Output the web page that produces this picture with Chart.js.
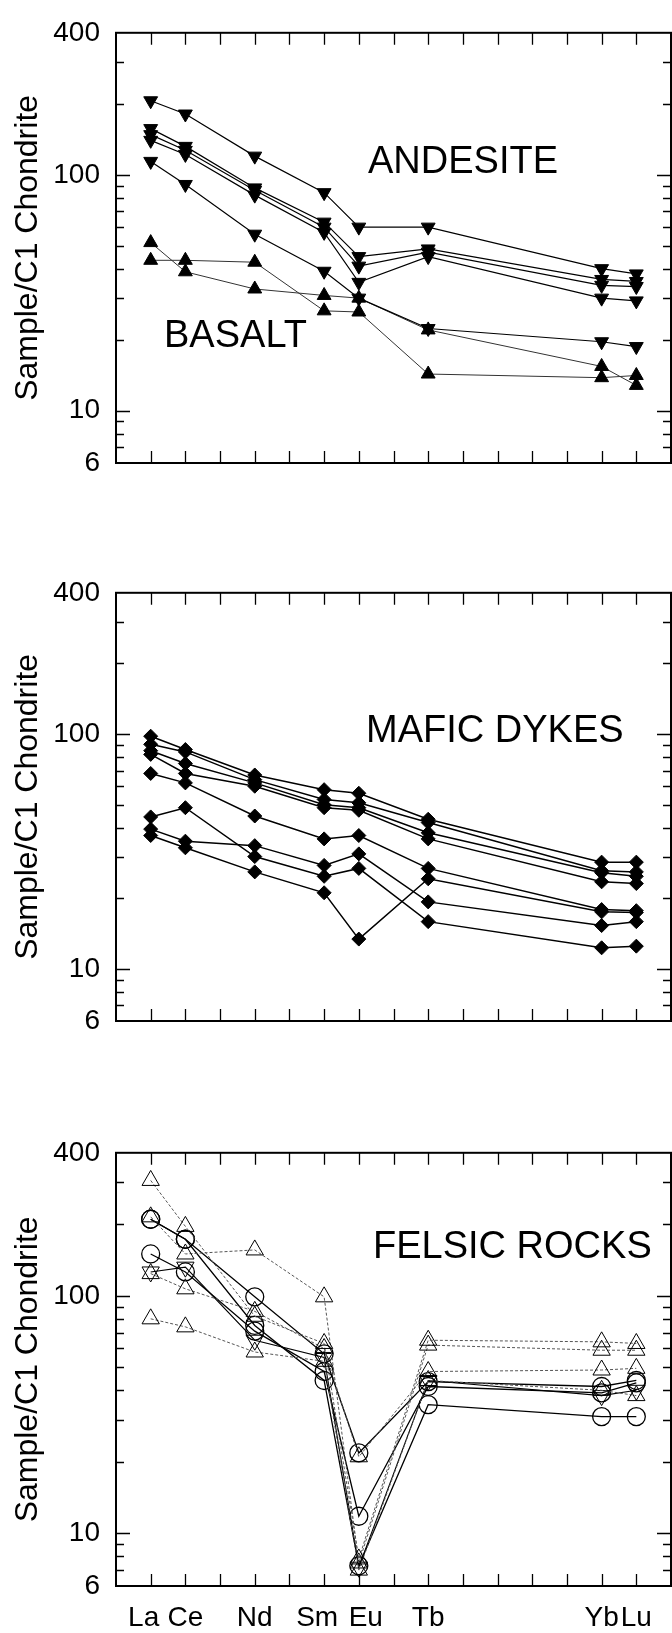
<!DOCTYPE html>
<html><head><meta charset="utf-8">
<script src="https://cdn.jsdelivr.net/npm/chart.js@4.4.0/dist/chart.umd.min.js"></script>
<style>
html,body{margin:0;padding:0;background:#fff;}
body{width:672px;height:1633px;position:relative;overflow:hidden;}
canvas{position:absolute;left:0;}
</style></head><body>
<canvas id="c1" width="672" height="500" style="top:0px"></canvas>
<canvas id="c2" width="672" height="500" style="top:560px"></canvas>
<canvas id="c3" width="672" height="513" style="top:1120px"></canvas>
<script>
// ---------- categories / ticks ----------
const elements = ['La','Ce','Pr','Nd','Pm','Sm','Eu','Gd','Tb','Dy','Ho','Er','Tm','Yb','Lu'];
const analysed = ['La','Ce','Nd','Sm','Eu','Tb','Yb','Lu'];
const yTickLabels = [400, 100, 10, 6];
const yTicks = [6,7,8,9,10,20,30,40,50,60,70,80,90,100,200,300,400];

// ---------- panel 1: andesite (filled down-triangles) ----------
const andesite1 = [206, 181, 120, 84, 60, 60, 40, 38];
const andesite2 = [157, 132, 88, 63, 45, 48.5, 36, 35.3];
const andesite3 = [148, 127, 86, 60, 41, 47, 34, 33.6];
const andesite4 = [140, 122, 82, 57, 35, 45, 30, 29.2];
const andesite5 = [114, 91, 56, 39, 30, 22.3, 19.6, 18.7];
// basalt (filled up-triangles)
const basalt1 = [51.6, 38.8, 32.8, 30.8, 30.0, 22.0, 15.4, 12.8];
const basalt2 = [43.4, 43.4, 42.6, 26.5, 26.2, 14.3, 13.8, 14.1];

// ---------- panel 2: mafic dykes (filled diamonds) ----------
const dyke1 = [98, 86, 67, 58, 56, 43.4, 28.5, 28.5];
const dyke2 = [90.5, 84, 64, 52.7, 51, 42, 26.2, 25.9];
const dyke3 = [85, 75, 62, 50, 48.6, 38, 25.7, 24.8];
const dyke4 = [82, 68, 60, 48.6, 47.4, 35.8, 23.5, 23.1];
const dyke5 = [68, 62, 44.8, 35.8, 37, 26.8, 17.9, 17.7];
const dyke6 = [44.4, 48.6, 30.1, 24.8, 26.8, 15.9, 12.3, 12.5];
const dyke7 = [39.4, 35, 33.5, 27.6, 30.9, 19.3, 15.3, 15.9];
const dyke8 = [37, 32.8, 25.9, 21.1, 13.4, 24.2, 17.5, 17.4];

// ---------- panel 3: felsic rocks ----------
const felsicCircle1 = [210, 173, 99, 57, 21.8, 43.5, 41.5, 44];
const felsicCircle2 = [150, 126, 71, 48, 11.8, 41.5, 39, 43];
const felsicCircle3 = [210, 173, 75, 44, 7.3, 34.8, 31, 31];
const felsicTri1 = [306, 196, 82, 63, 7.8, 65, 64, 63];
const felsicTri2 = [215, 150, 156, 99, 7.5, 62, 59, 59];
const felsicTri3 = [124, 107, 86, 60, 21, 48, 48.7, 49.5];
const felsicTri4 = [80, 74, 58, 53, 7.0, 44, 40, 38];
const felsicInvTri = [126, 132, 65, 55, 7.2, 44, 38, 40];

// ---------- helpers ----------
const FONT = '"Liberation Sans", Arial, Helvetica, sans-serif';
const EN = '\u2002';
// small visual nudges of the element labels, as in the original typesetting
const xLabelText = { La: 'La' + EN, Sm: 'Sm' + EN, Eu: EN + 'Eu' };
function pts(vals){ return analysed.map((el,i)=>({x: elements.indexOf(el), y: vals[i]})); }

function ds(vals, style){
  return Object.assign({
    data: pts(vals), showLine: true, borderColor: '#000', borderWidth: 1.2,
    pointBorderColor: '#000', pointBackgroundColor: '#000', pointBorderWidth: 1,
    pointRadius: 7, pointHoverRadius: 7, pointStyle: 'triangle', pointRotation: 0, tension: 0
  }, style);
}

const frameTicks = {
  id: 'frameTicks',
  afterDatasetsDraw(chart, args, opts){
    const {ctx, chartArea: a} = chart;
    const xs = chart.scales.x, ys = chart.scales.y;
    ctx.save();
    ctx.strokeStyle = '#000';
    ctx.lineWidth = 1.3;
    ctx.beginPath();
    xs.ticks.forEach(t => {
      const px = Math.round(xs.getPixelForValue(t.value)) + 0.5;
      ctx.moveTo(px, a.top); ctx.lineTo(px, a.top + 12);
      ctx.moveTo(px, a.bottom); ctx.lineTo(px, a.bottom - 12);
    });
    ys.ticks.forEach(t => {
      const v = t.value;
      if (v === 6 || v === 400) return;
      const len = (v === 10 || v === 100) ? 14 : 8;
      const py = Math.round(ys.getPixelForValue(v)) + 0.5;
      ctx.moveTo(a.left, py); ctx.lineTo(a.left + len, py);
      ctx.moveTo(a.right, py); ctx.lineTo(a.right - len, py);
    });
    ctx.stroke();
    ctx.lineWidth = 2;
    ctx.strokeRect(a.left, a.top, a.right - a.left, a.bottom - a.top);
    ctx.fillStyle = '#000';
    ctx.font = '38px ' + FONT;
    ctx.textAlign = 'left';
    ctx.textBaseline = 'alphabetic';
    (opts.labels || []).forEach(l => ctx.fillText(l.text, l.x, l.y));
    ctx.restore();
  }
};

function makeChart(id, datasets, cfg){
  return new Chart(document.getElementById(id), {
    type: 'scatter',
    data: { datasets },
    plugins: [frameTicks],
    options: {
      responsive: false, animation: false, devicePixelRatio: 1,
      layout: { autoPadding: false, padding: { top: cfg.padTop, bottom: cfg.padBottom, left: 0, right: 1 } },
      plugins: { legend: {display: false}, tooltip: {enabled: false},
                 frameTicks: { labels: cfg.labels } },
      scales: {
        x: {
          type: 'linear', min: -1, max: 15,
          afterBuildTicks: s => { s.ticks = elements.map((e,i)=>({value: i})); },
          afterFit: s => { s.height = cfg.xHeight; s.paddingLeft = 0; s.paddingRight = 0; },
          grid: { display: false, drawTicks: false }, border: { display: false },
          ticks: {
            display: cfg.showX, autoSkip: false, maxRotation: 0, padding: 15,
            color: '#000', font: { family: FONT, size: 28 },
            callback: v => analysed.includes(elements[v]) ? (xLabelText[elements[v]] || elements[v]) : ''
          }
        },
        y: {
          type: 'logarithmic', min: 6, max: 400,
          afterBuildTicks: s => { s.ticks = yTicks.map(v => ({value: v})); },
          afterFit: s => { s.width = 116; },
          grid: { display: false, drawTicks: false }, border: { display: false },
          ticks: {
            autoSkip: false, padding: 16, color: '#000', font: { family: FONT, size: 28 },
            callback: v => yTickLabels.includes(v) ? String(v) : ''
          },
          title: { display: true, text: 'Sample/C1 Chondrite', color: '#000',
                   font: { family: FONT, size: 32 }, padding: { top: 9, bottom: 0 } }
        }
      }
    }
  });
}

const downTri = { pointStyle: 'triangle', pointRotation: 180, pointRadius: 8 };
const upTri = { pointStyle: 'triangle', pointRotation: 0, pointRadius: 8 };
const basaltLine = { borderColor: '#333', borderWidth: 1 };

makeChart('c1', [
  ds(andesite1, downTri), ds(andesite2, downTri), ds(andesite3, downTri),
  ds(andesite4, downTri), ds(andesite5, downTri),
  ds(basalt1, Object.assign({}, upTri, basaltLine)),
  ds(basalt2, Object.assign({}, upTri, basaltLine))
], { padTop: 24, padBottom: 37, xHeight: 0, showX: false,
     labels: [{text: 'ANDESITE', x: 368, y: 173}, {text: 'BASALT', x: 164, y: 347}] });

const diamond = { pointStyle: 'rectRot', pointRadius: 7, borderWidth: 1.5 };
makeChart('c2', [dyke1, dyke2, dyke3, dyke4, dyke5, dyke6, dyke7, dyke8].map(d => ds(d, diamond)),
  { padTop: 29, padBottom: 39, xHeight: 0, showX: false,
    labels: [{text: 'MAFIC DYKES', x: 366, y: 182}] });

const openCircle = { pointStyle: 'circle', pointRadius: 9, pointBackgroundColor: 'rgba(0,0,0,0)',
                     pointBorderWidth: 1.3, borderWidth: 1.3 };
const openTri = { pointStyle: 'triangle', pointRadius: 10, pointBackgroundColor: 'rgba(0,0,0,0)',
                  pointBorderWidth: 1, borderWidth: 1, borderColor: '#555', borderDash: [3, 2] };
const openInvTri = { pointStyle: 'triangle', pointRotation: 180, pointRadius: 10,
                     pointBackgroundColor: 'rgba(0,0,0,0)', pointBorderWidth: 1, borderWidth: 1.1 };
makeChart('c3', [
  ds(felsicTri1, openTri), ds(felsicTri2, openTri), ds(felsicTri3, openTri), ds(felsicTri4, openTri),
  ds(felsicInvTri, openInvTri),
  ds(felsicCircle1, openCircle), ds(felsicCircle2, openCircle), ds(felsicCircle3, openCircle)
], { padTop: 28, padBottom: 0, xHeight: 47, showX: true,
     labels: [{text: 'FELSIC ROCKS', x: 373, y: 138}] });
</script>
</body></html>
